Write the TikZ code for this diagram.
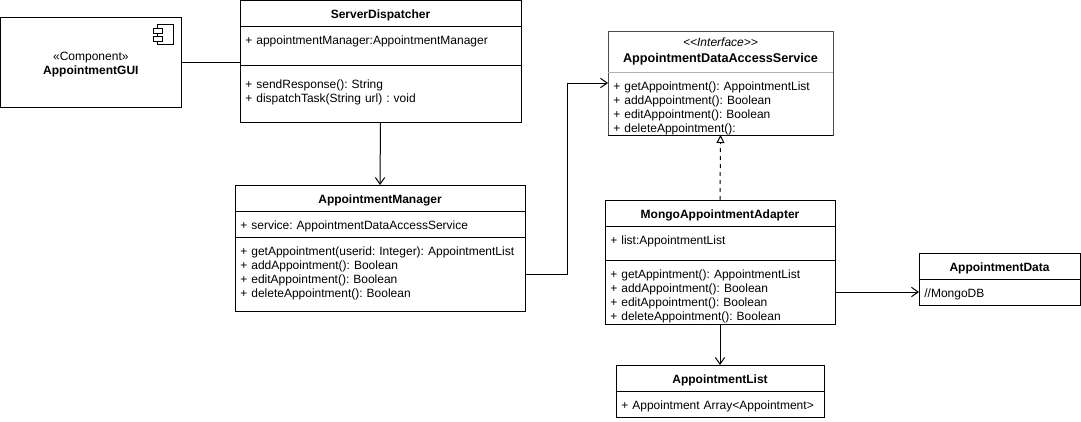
\documentclass[tikz,border=0pt]{standalone}
\usepackage{fontspec}
\setmainfont{Liberation Sans}
\frenchspacing
\usetikzlibrary{arrows.meta,positioning}
\tikzset{
  compart/.style 2 args={draw, rectangle, outer sep=0pt, inner ysep=0pt, inner xsep=4pt,
    anchor=north west, align=left, font=\fontsize{9}{10.5}\selectfont,
    text width=#1*0.75pt-8pt, text height=13.5pt, text depth=#2*0.75pt-13.5pt},
  classhead/.style 2 args={compart={#1}{#2}, align=center, font=\fontsize{9}{10.5}\selectfont\bfseries},
  assoc/.style={-{Straight Barb[length=5pt,width=7pt]}, line width=0.75pt},
  realize/.style={-{Triangle[open,length=6pt,width=6pt]}, dashed, line width=0.75pt},
}
\begin{document}
\begin{tikzpicture}[x=0.75pt,y=-0.75pt,line width=0.75pt]
  \useasboundingbox (0,0) rectangle (1081,421);

  \node [draw, outer sep=0pt, minimum width=135.5pt, minimum height=67.5pt, anchor=north west,
    align=center, text height=20pt, font=\fontsize{9}{10.5}\selectfont] (gui) at (0.5,17)
    {«Component»\\ \textbf{AppointmentGUI}};
  \draw (157,24) rectangle (173,44);
  \draw [fill=white] (153,28) rectangle (162,33);
  \draw [fill=white] (153,36) rectangle (162,41);

  \node [classhead={281}{26}] (sd_name) at (240,0.5) {ServerDispatcher};
  \node [compart={281}{39}, below=0pt of sd_name] (sd_attr) {+ appointmentManager:AppointmentManager};
  \node [compart={281}{57}, below=0pt of sd_attr, text height=17.25pt, text depth=25.5pt] (sd_ops)
    {+ sendResponse(): String\\ + dispatchTask(String url) : void};

  \node [classhead={290}{26}] (am_name) at (235,185) {AppointmentManager};
  \node [compart={290}{26}, below=0pt of am_name] (am_attr) {+ service: AppointmentDataAccessService};
  \node [compart={290}{74}, below=0pt of am_attr] (am_ops)
    {+ getAppointment(userid: Integer): AppointmentList\\ + addAppointment(): Boolean\\
     + editAppointment(): Boolean\\ + deleteAppointment(): Boolean};

  \node [classhead={225}{41}, draw=black!70, text height=11.25pt, text depth=19.5pt,
    font=\fontsize{9.5}{12}\selectfont\bfseries] (das_name) at (608,31)
    {{\fontsize{9}{12}\selectfont\mdseries\itshape <{}<Interface>{}>}\\ AppointmentDataAccessService};
  \node [compart={225}{63}, draw=black!70, below=0pt of das_name] (das_ops)
    {+ getAppointment(): AppointmentList\\ + addAppointment(): Boolean\\
     + editAppointment(): Boolean\\ + deleteAppointment():};
  \draw [gray!60] (das_name.south west) -- (das_name.south east);
  \draw (das_ops.south west) -- (das_ops.south east);

  \node [classhead={230}{26}] (ad_name) at (605,200) {MongoAppointmentAdapter};
  \node [compart={230}{34}, below=0pt of ad_name] (ad_attr) {+ list:AppointmentList};
  \node [compart={230}{64}, below=0pt of ad_attr] (ad_ops)
    {+ getAppintment(): AppointmentList\\ + addAppointment(): Boolean\\
     + editAppointment(): Boolean\\ + deleteAppointment(): Boolean};

  \node [classhead={161}{26}] (data_name) at (919,253) {AppointmentData};
  \node [compart={161}{26}, below=0pt of data_name] (data_attr) {//MongoDB};

  \node [classhead={208}{26}] (list_name) at (616,365) {AppointmentList};
  \node [compart={208}{26}, below=0pt of list_name] (list_attr) {+ Appointment Array<Appointment>};

  \coordinate (das_in) at (das_ops.north west |- 0,83);

  \draw (gui.east) -- (gui.east -| sd_attr.west);
  \draw [assoc] (sd_ops.south) -- (am_name.north);
  \draw [assoc] (am_ops.east) -- (567,274) -- (567,83) -- (das_in);
  \draw [realize] (ad_name.north) -- (das_ops.south);
  \draw [assoc] (ad_ops.east) -- (data_attr.west);
  \draw [assoc] (ad_ops.south) -- (list_name.north);
\end{tikzpicture}
\end{document}
